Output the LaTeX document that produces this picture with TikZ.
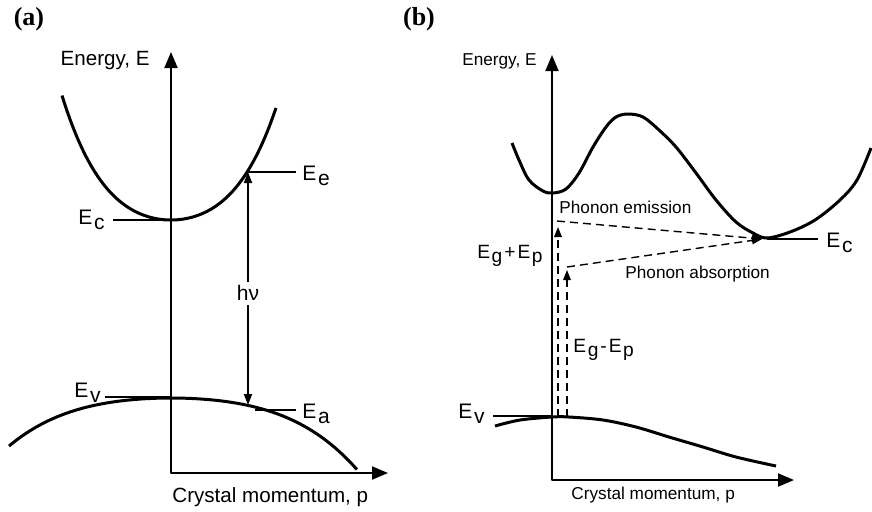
\documentclass[tikz,border=0pt]{standalone}
\usepackage{fontspec}
\setmainfont{Liberation Sans}
\newfontfamily\panelfont{Liberation Serif}
\usetikzlibrary{arrows.meta,positioning}
\newcommand{\Esub}[1]{E\kern0.08em\raisebox{-0.45ex}{#1}}
\tikzset{
  % Base styles
  band base/.style={x=0.5pt, y=-0.5pt, line join=round},
  panel label/.style={font=\panelfont\bfseries\fontsize{13}{15}\selectfont, inner sep=0pt},
  % Lines
  axis line/.style={line width=1pt, {Triangle[length=8pt,width=6.5pt]}-{Triangle[length=8pt,width=6.5pt]}},
  band curve/.style={line width=1.5pt},
  level line/.style={line width=0.7pt},
  photon arrow/.style={line width=0.9pt, {Triangle[length=5.5pt,width=4pt]}-{Triangle[length=5.5pt,width=4pt]}},
  phonon arrow/.style={line width=0.7pt, dash pattern=on 4pt off 2.5pt, -{Triangle[length=5pt,width=3.8pt]}},
  % Texts
  axis text a/.style={font=\fontsize{10.3}{12}\selectfont, inner sep=2pt},
  axis text b/.style={font=\fontsize{8.6}{10}\selectfont, inner sep=2pt},
  band label/.style={font=\fontsize{10.5}{12}\selectfont, inner sep=1pt},
  small band label/.style={font=\fontsize{9.6}{11}\selectfont, inner sep=1pt},
}

\begin{document}
\begin{tikzpicture}[band base]
\useasboundingbox (0,0) rectangle (872,511);

% Panel labels
\node[panel label] (pa) at (29,19) {(a)};
\node[panel label] (pb) at (419,19) {(b)};

% ---- (a) direct transition ----
\coordinate (topA) at (171,52);
\coordinate (OA) at (171,473);
\coordinate (rightA) at (388,473);
\draw[axis line] (topA) -- (OA) -- (rightA);
\node[axis text a, anchor=east] (enA) at (154,61) {Energy, E};
\node[axis text a, anchor=west] (cmA) at (168,497) {Crystal momentum, p};

% Bands
\draw[band curve] plot[domain=-1.09:1.05, samples=80]
  ({171+100*\x}, {220-62*\x*\x-36*\x*\x*\x*\x});
\draw[band curve] plot[domain=-1.62:1.86, samples=80]
  ({171+100*\x}, {398+10.77*\x*\x+2.87*\x*\x*\x*\x});

% Levels
\coordinate (cminA) at (171,220);
\coordinate (ecLA) at (113,220);
\node[band label, left=3pt of ecLA] (ecA) {\Esub{c}};
\draw[level line] (ecLA) -- (cminA);

\coordinate (vmaxA) at (171,397);
\coordinate (evLA) at (105,397);
\node[band label, above left=-4pt and 1pt of evLA] (evA) {\Esub{v}};
\draw[level line] (evLA) -- (vmaxA);

\coordinate (eeA) at (248,172);
\coordinate (eeLA) at (296,172);
\node[band label, right=2pt of eeLA, yshift=-2pt] (eeLbl) {\Esub{e}};
\draw[level line] (eeA) -- (eeLA);

\coordinate (eaA) at (248,405);
\coordinate (eaSA) at (255,410);
\coordinate (eaLA) at (296,410);
\node[band label, right=2pt of eaLA, yshift=-2pt] (eaLbl) {\Esub{a}};
\draw[level line] (eaSA) -- (eaLA);

% Photon
\draw[photon arrow] (eaA) -- (eeA)
  node[pos=0.48, fill=white, band label, inner sep=2pt] (hvA) {hν};

% ---- (b) indirect transition ----
\coordinate (topB) at (552,55);
\coordinate (OB) at (552,480);
\coordinate (rightB) at (794,480);
\draw[axis line] (topB) -- (OB) -- (rightB);
\node[axis text b, anchor=east] (enB) at (541,61) {Energy, E};
\node[axis text b, anchor=west] (cmB) at (567,495) {Crystal momentum, p};

% Bands
\draw[band curve] plot[smooth, tension=0.55] coordinates {
  (512,143) (519,160) (529,180) (543,191) (553,193) (566,189) (579,173)
  (593,147) (606,127) (616,117) (628,114) (643,117) (659,130) (676,147)
  (696,173) (716,200) (736,222) (753,233) (767,238) (790,232) (815,220)
  (840,200) (857,180) (871,148)};
\draw[band curve] plot[smooth, tension=0.55] coordinates {
  (495,426) (520,420) (552,417) (569,417) (603,420) (636,427) (669,437)
  (703,447) (736,457) (776,466)};

% Levels
\coordinate (cminB) at (767,239);
\coordinate (ecLB) at (818,239);
\node[band label, right=3pt of ecLB, yshift=-2pt] (ecB) {\Esub{c}};
\draw[level line] (cminB) -- (ecLB);

\coordinate (vmaxB) at (552,416);
\coordinate (evLB) at (493,416);
\node[band label, above left=-5pt and 3pt of evLB] (evB) {\Esub{v}};
\draw[level line] (evLB) -- (vmaxB);

% Phonon-assisted transitions
\coordinate (emV) at (558,417);
\coordinate (emT) at (558,227);
\coordinate (emS) at (557,221);
\coordinate (abV) at (567,417);
\coordinate (abT) at (567,270);
\coordinate (abS) at (567,267);
\coordinate (tipB) at (762,239);
\draw[phonon arrow] (emV) -- (emT);
\draw[phonon arrow] (abV) -- (abT);
\draw[phonon arrow] (emS) -- (tipB);
\draw[phonon arrow] (abS) -- (tipB);

\node[axis text b, anchor=west] (emLbl) at (555,207) {Phonon emission};
\node[axis text b, anchor=west] (abLbl) at (621,274) {Phonon absorption};
\node[small band label, anchor=east] (egpLbl) at (545,256) {\Esub{g}\kern1pt+\kern1pt\Esub{p}};
\node[small band label, anchor=west] (egmLbl) at (571,350) {\Esub{g}\kern1pt-\kern1pt\Esub{p}};
\end{tikzpicture}
\end{document}
